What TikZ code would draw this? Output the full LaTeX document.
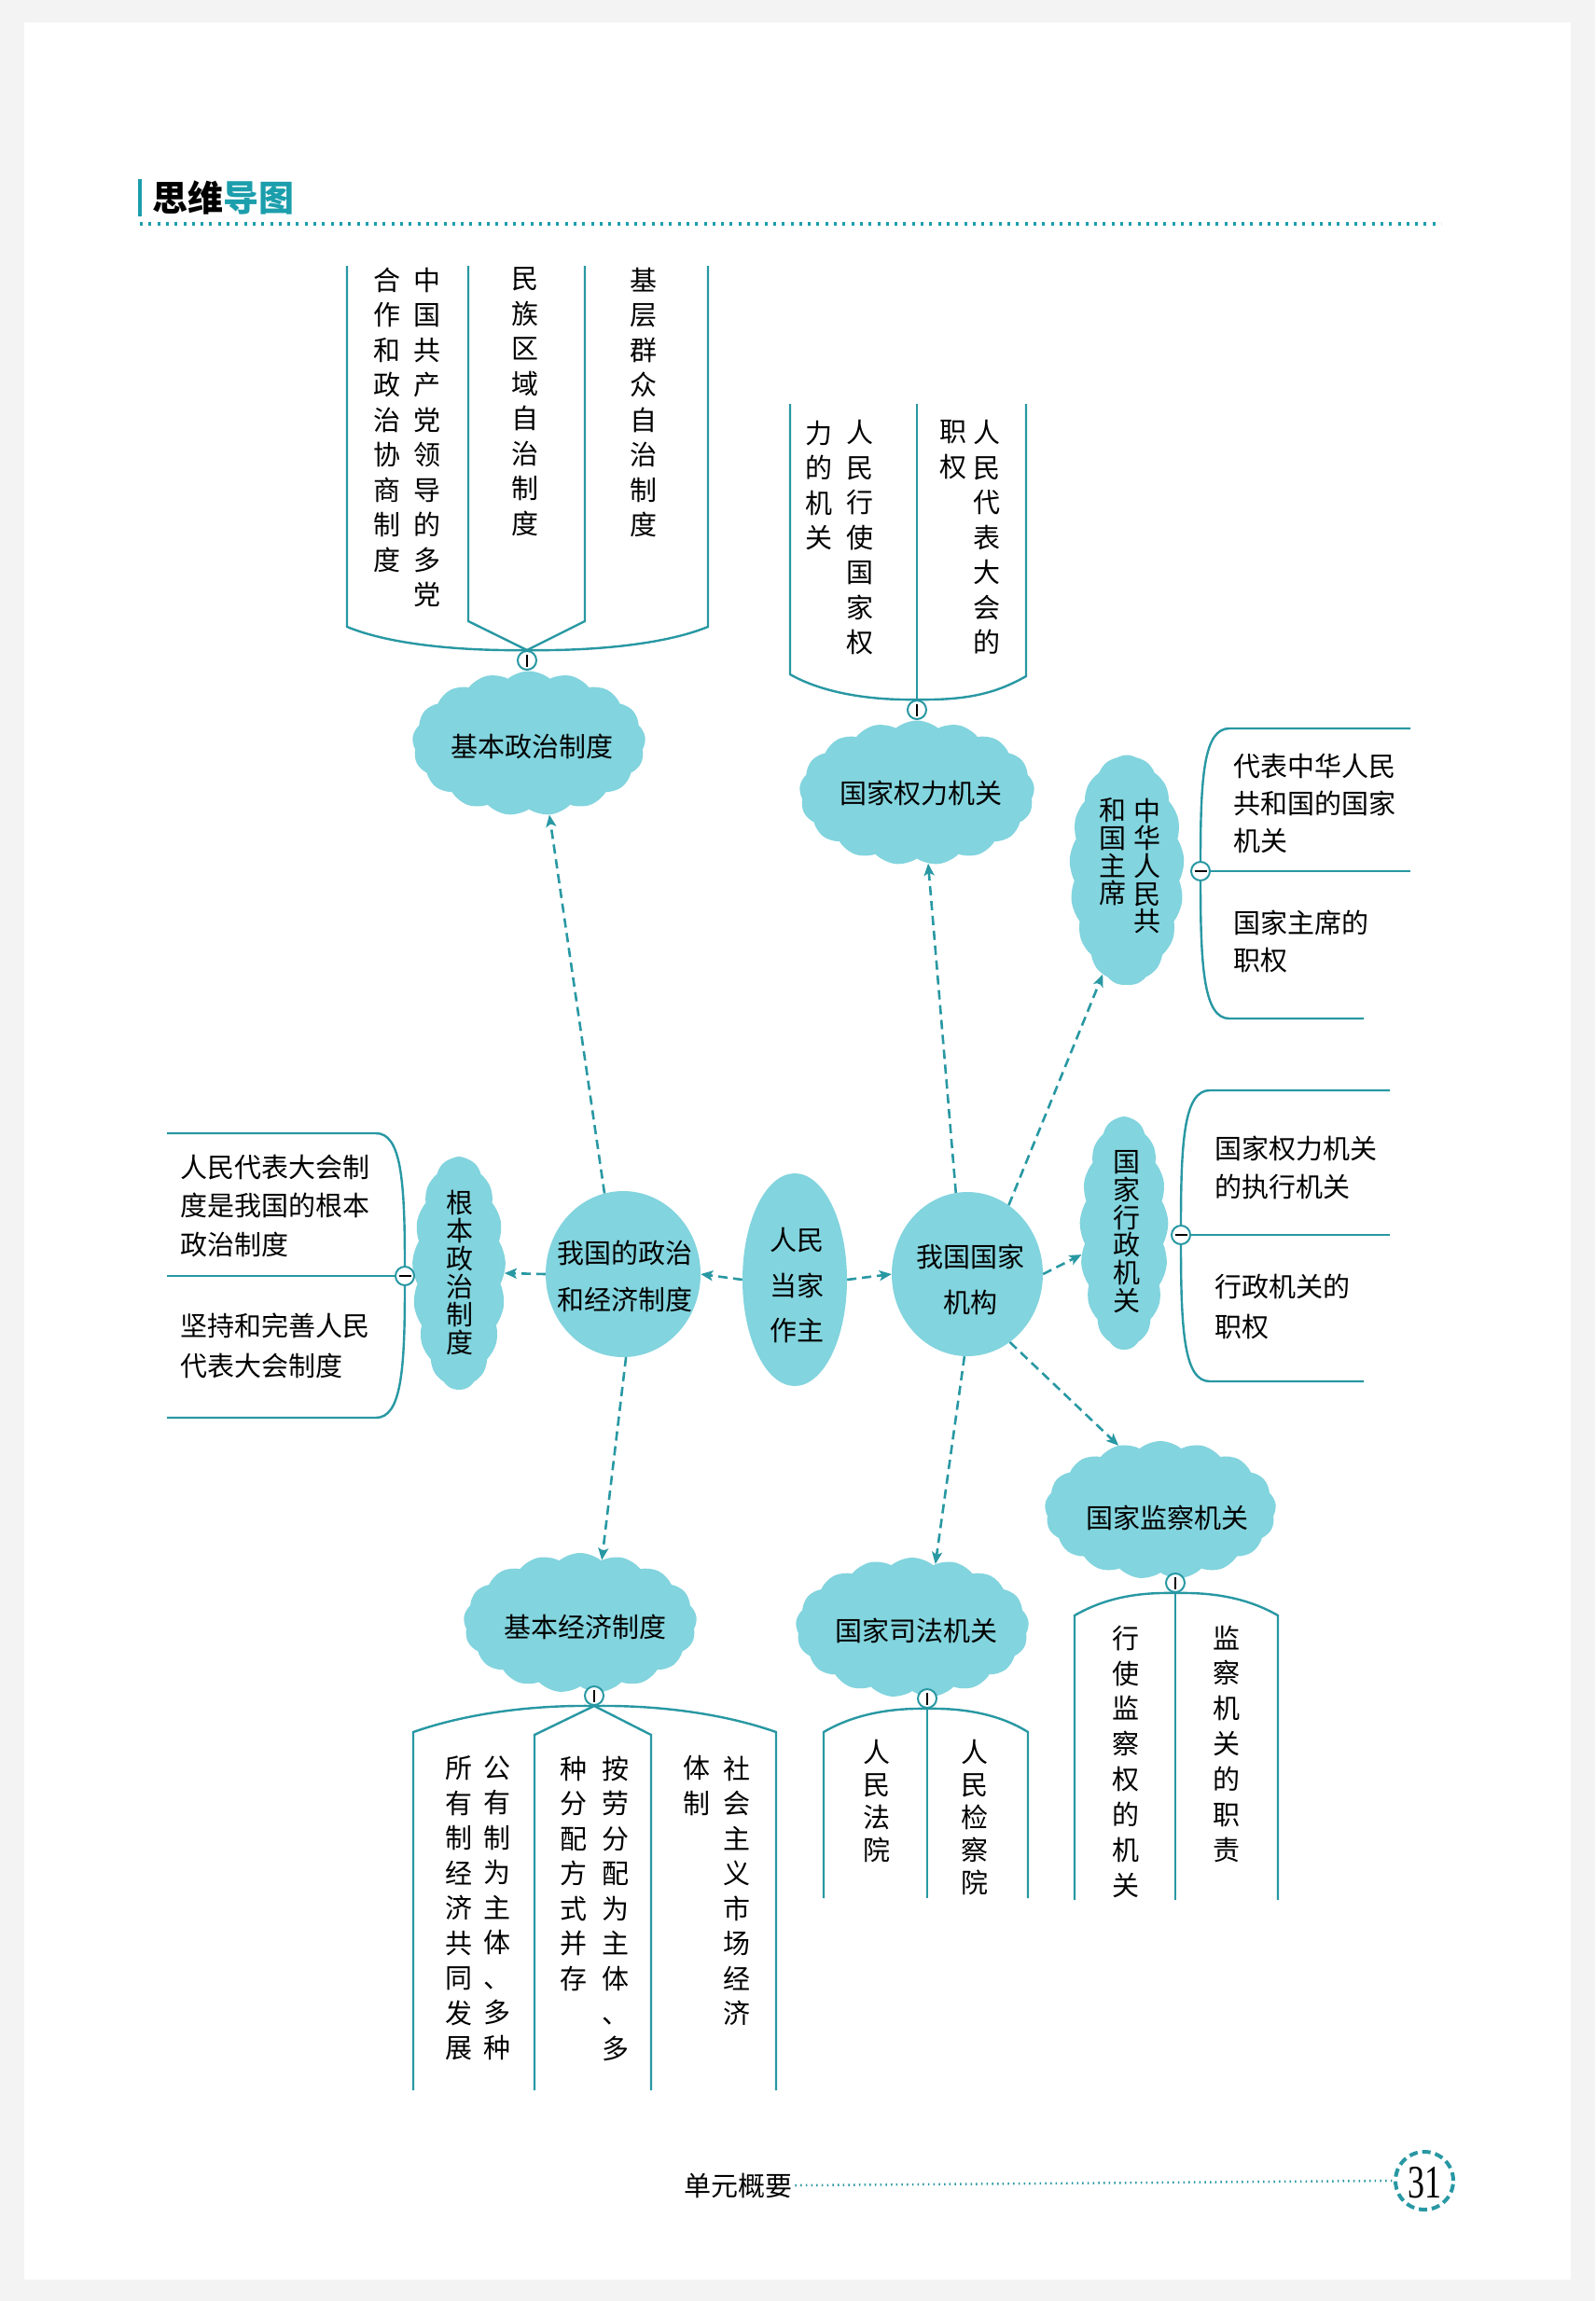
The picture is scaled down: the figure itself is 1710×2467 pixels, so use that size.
\documentclass[tikz,border=0pt]{standalone}
\usepackage{fontspec}
\usepackage{graphicx}
\newfontfamily\cjk{Noto Sans CJK SC}
\newfontfamily\numfont{Liberation Serif}
\usetikzlibrary{shapes.geometric,shapes.symbols,arrows.meta}
\definecolor{tealc}{RGB}{40,152,163}
\definecolor{cloudc}{RGB}{130,212,222}
\definecolor{headc}{RGB}{28,158,172}
\definecolor{pagebg}{RGB}{243,243,243}
\def\vsgobble#1{}
\def\vsfirst#1{#1}
\def\vstack#1{\vstackfirst#1\relax}
\def\vstackfirst#1{#1\vstackrest}
\def\vstackrest#1{\ifx#1\relax\expandafter\vsgobble\else\expandafter\vsfirst\fi{\\#1\vstackrest}}
\tikzset{
  every node/.style={inner sep=0pt},
  vtxt/.style={font=\cjk\fontsize{29}{#1}\selectfont, align=center, anchor=north},
  vtxt/.default=37.5,
  htxt/.style={font=\cjk\fontsize{29}{#1}\selectfont, align=left, anchor=north west},
  htxt/.default=41.5,
  ctxt/.style={font=\cjk\fontsize{29}{#1}\selectfont, align=center},
  ctxt/.default=35,
  cloudbox/.style={cloud, cloud puffs=17, cloud puff arc=80, cloud ignores aspect, fill=cloudc, draw=none},
  tallcloud/.style={cloud, cloud puffs=17, cloud puff arc=60, cloud ignores aspect, fill=cloudc, draw=none},
  blob/.style={ellipse, fill=cloudc, draw=none},
  fan/.style={draw=tealc, line width=2.4pt},
  darrow/.style={draw=tealc, line width=2.6pt, dash pattern=on 10pt off 6pt, -{Stealth[length=13pt,width=11pt,inset=3pt]}},
  knobv/.style={circle, draw=tealc, line width=2pt, fill=white, minimum size=20pt,
    path picture={\draw[black,line width=1.6pt] ([yshift=-6.5pt]path picture bounding box.center) -- ([yshift=6.5pt]path picture bounding box.center);}},
  knobh/.style={circle, draw=tealc, line width=2pt, fill=white, minimum size=20pt,
    path picture={\draw[black,line width=1.6pt] ([xshift=-6.5pt]path picture bounding box.center) -- ([xshift=6.5pt]path picture bounding box.center);}}
}
\begin{document}
\begin{tikzpicture}[x=1pt,y=-1pt]
\useasboundingbox (0,0) rectangle (1710,2467);
\fill[pagebg] (0,0) rectangle (1710,2467);
\fill[white] (26,24) rectangle (1684,2444);

% header
\draw[headc, line width=4pt] (150,192) -- (150,232);
\node[anchor=west, font=\cjk\bfseries\fontsize{38}{38}\selectfont] (head) at (163,212) {思维\textcolor{headc}{导图}};
\draw[headc, line width=3.5pt, dash pattern=on 3pt off 6.3pt] (150,240) -- (1545,240);

% clouds
\node[cloudbox, minimum width=250pt, minimum height=155pt] (jbzz) at (567,797) {};
\node[cloudbox, minimum width=252pt, minimum height=155pt] (qlj) at (983,850) {};
\node[tallcloud, minimum width=123pt, minimum height=247pt] (zx) at (1208,933) {};
\node[tallcloud, minimum width=95pt, minimum height=250pt] (xz) at (1205,1322) {};
\node[tallcloud, minimum width=100pt, minimum height=250pt] (gbzz) at (492,1365) {};
\node[cloudbox, minimum width=248pt, minimum height=148pt] (jc) at (1244,1619) {};
\node[cloudbox, minimum width=250pt, minimum height=150pt] (sf) at (978,1745) {};
\node[cloudbox, minimum width=250pt, minimum height=150pt] (jj) at (622,1740) {};

% central blobs
\node[blob, minimum width=166pt, minimum height=178pt] (pol) at (668,1366) {};
\node[blob, minimum width=112pt, minimum height=228pt] (rmdj) at (852,1372) {};
\node[blob, minimum width=162pt, minimum height=176pt] (gjjg) at (1037,1366) {};

% cloud / blob texts
\node[ctxt] (jbzzt) at (570,800) {基本政治制度};
\node[ctxt] (qljt) at (987,850) {国家权力机关};
\node[ctxt] (jct) at (1251,1627) {国家监察机关};
\node[ctxt] (sft) at (982,1748) {国家司法机关};
\node[ctxt] (jjt) at (627,1744) {基本经济制度};
\node[ctxt=50] (polt) at (670,1368) {我国的政治\\和经济制度};
\node[ctxt=48.5] (rmdjt) at (854,1378) {人民\\当家\\作主};
\node[ctxt=49] (gjjgt) at (1040,1372) {我国国家\\机构};
\node[vtxt=29.7] (zxa) at (1230,855.5) {\vstack{中华人民共}};
\node[vtxt=29.7] (zxb) at (1193,855.5) {\vstack{和国主席}};
\node[vtxt=29.7] (xzt) at (1208,1233.5) {\vstack{国家行政机关}};
\node[vtxt=30] (gbzzt) at (493,1275.5) {\vstack{根本政治制度}};

% knobs
\node[knobv] (k1) at (565,708) {};
\node[knobv] (k2) at (983,761) {};
\node[knobh] (k3) at (1287,934) {};
\node[knobh] (k4) at (1266,1324) {};
\node[knobh] (k5) at (434,1368) {};
\node[knobv] (k6) at (1260,1697) {};
\node[knobv] (k7) at (994,1821) {};
\node[knobv] (k8) at (637,1818) {};

% fan 1 (basic political system)
\draw[fan] (372,285) -- (372,672) .. controls (420,692) and (500,698) .. (k1.north) .. controls (630,698) and (710,692) .. (759,672) -- (759,285);
\draw[fan] (502,285) -- (502,666) -- (k1.north) -- (627,666) -- (627,285);
\node[vtxt] (t1a) at (458,286.5) {\vstack{中国共产党领导的多党}};
\node[vtxt] (t1b) at (415,286.5) {\vstack{合作和政治协商制度}};
\node[vtxt] (t1c) at (563,286.5) {\vstack{民族区域自治制度}};
\node[vtxt] (t1d) at (690,286.5) {\vstack{基层群众自治制度}};

% fan 2 (state power organs)
\draw[fan] (847,433) -- (847,723) .. controls (880,742) and (930,751) .. (k2.north) .. controls (1040,751) and (1070,742) .. (1100,725) -- (1100,433);
\draw[fan] (983,433) -- (k2.north);
\node[vtxt] (t2a) at (922,450.5) {\vstack{人民行使国家权}};
\node[vtxt] (t2b) at (878,450.5) {\vstack{力的机关}};
\node[vtxt] (t2c) at (1058,450.5) {\vstack{人民代表大会的}};
\node[vtxt] (t2d) at (1022,450.5) {\vstack{职权}};

% fan 3 (president)
\draw[fan] (k3.north) .. controls (1287,830) and (1291,781) .. (1318,781) -- (1512,781);
\draw[fan] (k3.east) -- (1512,934);
\draw[fan] (k3.south) .. controls (1287,1040) and (1291,1092) .. (1318,1092) -- (1462,1092);
\node[htxt=40] (t3a) at (1322,807.5) {代表中华人民\\共和国的国家\\机关};
\node[htxt=40] (t3b) at (1322,975.5) {国家主席的\\职权};

% fan 4 (administrative organs)
\draw[fan] (k4.north) .. controls (1266,1220) and (1270,1169) .. (1297,1169) -- (1490,1169);
\draw[fan] (k4.east) -- (1490,1324);
\draw[fan] (k4.south) .. controls (1266,1430) and (1270,1481) .. (1297,1481) -- (1462,1481);
\node[htxt=41] (t4a) at (1302,1217.5) {国家权力机关\\的执行机关};
\node[htxt=43] (t4b) at (1302,1365.5) {行政机关的\\职权};

% fan 5 (fundamental political system)
\draw[fan] (k5.north) .. controls (434,1265) and (430,1215) .. (403,1215) -- (179,1215);
\draw[fan] (k5.west) -- (179,1368);
\draw[fan] (k5.south) .. controls (434,1470) and (430,1520) .. (403,1520) -- (179,1520);
\node[htxt] (t5a) at (193,1237.5) {人民代表大会制\\度是我国的根本\\政治制度};
\node[htxt=43] (t5b) at (193,1407.5) {坚持和完善人民\\代表大会制度};

% fan 6 (supervisory organs)
\draw[fan] (1152,2037) -- (1152,1732) .. controls (1185,1713) and (1220,1707) .. (k6.south) .. controls (1300,1707) and (1337,1713) .. (1370,1732) -- (1370,2037);
\draw[fan] (k6.south) -- (1260,2037);
\node[vtxt=37.9] (t6a) at (1207,1742.5) {\vstack{行使监察权的机关}};
\node[vtxt=37.9] (t6b) at (1315,1742.5) {\vstack{监察机关的职责}};

% fan 7 (judicial organs)
\draw[fan] (883,2035) -- (883,1857) .. controls (915,1838) and (955,1831) .. (k7.south) .. controls (1033,1831) and (1072,1838) .. (1102,1857) -- (1102,2035);
\draw[fan] (k7.south) -- (994,2035);
\node[vtxt=35] (t7a) at (940,1865.5) {\vstack{人民法院}};
\node[vtxt=35] (t7b) at (1045,1865.5) {\vstack{人民检察院}};

% fan 8 (basic economic system)
\draw[fan] (443,2241) -- (443,1857) .. controls (500,1837) and (570,1828) .. (k8.south) .. controls (705,1828) and (775,1837) .. (832,1857) -- (832,2241);
\draw[fan] (573,2241) -- (573,1860) -- (k8.south) -- (698,1860) -- (698,2241);
\node[vtxt] (t8a) at (533,1882.5) {\vstack{公有制为主体、多种}};
\node[vtxt] (t8b) at (492,1882.5) {\vstack{所有制经济共同发展}};
\node[vtxt] (t8c) at (660,1882.5) {\vstack{按劳分配为主体、多}};
\node[vtxt] (t8d) at (615,1882.5) {\vstack{种分配方式并存}};
\node[vtxt] (t8e) at (790,1882.5) {\vstack{社会主义市场经济}};
\node[vtxt] (t8f) at (747,1882.5) {\vstack{体制}};

% dashed arrows
\draw[darrow] (pol.103) -- (jbzz.-74);
\draw[darrow] (pol.west) -- (gbzz.east);
\draw[darrow] (rmdj.west) -- (pol.east);
\draw[darrow] (rmdj.east) -- (gjjg.west);
\draw[darrow] (gjjg.98) -- (qlj.-81);
\draw[darrow] (gjjg.59) -- (zx.-103);
\draw[darrow] (gjjg.east) -- (xz);
\draw[darrow] (gjjg.-58) -- (jc.123);
\draw[darrow] (gjjg.-92) -- (sf.70);
\draw[darrow] (pol.-88) -- (jj.71);

% footer
\node[anchor=west, font=\cjk\fontsize{29}{29}\selectfont] (foot) at (733,2343) {单元概要};
\node[circle, draw=tealc, line width=4pt, dash pattern=on 9pt off 5pt, minimum size=62pt] (pg) at (1527,2338) {};
\node[font=\numfont\fontsize{50}{50}\selectfont] (pgn) at (1527,2340) {\scalebox{0.72}[1]{31}};
\draw[tealc, line width=2.5pt, dash pattern=on 1.5pt off 4.2pt] ([xshift=3pt]foot.east) -- (pg.west);
\end{tikzpicture}
\end{document}
